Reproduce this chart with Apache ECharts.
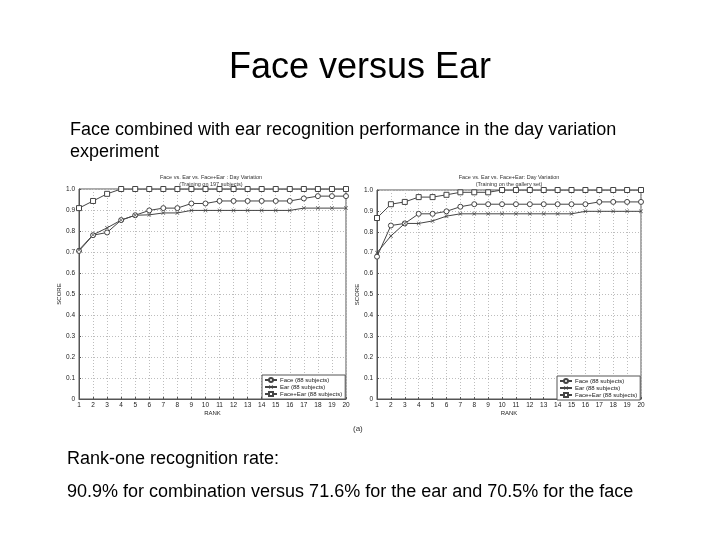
<!DOCTYPE html>
<html>
<head>
<meta charset="utf-8">
<script src="https://cdn.jsdelivr.net/npm/echarts@6/dist/echarts.min.js"></script>
<style>
  html, body { margin: 0; padding: 0; background: #fff; }
  #slide { width: 720px; height: 540px; }
</style>
</head>
<body>
<div id="slide"></div>
<script>
// ranks on the x axis
const ranks = [1, 2, 3, 4, 5, 6, 7, 8, 9, 10, 11, 12, 13, 14, 15, 16, 17, 18, 19, 20]

// left panel: training on 197 subjects
const leftFace = [0.705, 0.780, 0.793, 0.852, 0.875, 0.898, 0.909, 0.909, 0.931, 0.931,
  0.943, 0.943, 0.943, 0.943, 0.943, 0.943, 0.955, 0.966, 0.966, 0.966]
const leftEar = [0.710, 0.782, 0.815, 0.852, 0.875, 0.877, 0.886, 0.886, 0.898, 0.898,
  0.898, 0.898, 0.898, 0.898, 0.898, 0.898, 0.909, 0.909, 0.909, 0.909]
const leftFusion = [0.909, 0.943, 0.977, 1.0, 1.0, 1.0, 1.0, 1.0, 1.0, 1.0,
  1.0, 1.0, 1.0, 1.0, 1.0, 1.0, 1.0, 1.0, 1.0, 1.0]

// right panel: training on the gallery set
const rightFace = [0.681, 0.830, 0.840, 0.886, 0.886, 0.898, 0.920, 0.932, 0.932, 0.932,
  0.932, 0.932, 0.932, 0.932, 0.932, 0.932, 0.943, 0.943, 0.943, 0.943]
const rightEar = [0.700, 0.780, 0.840, 0.840, 0.852, 0.875, 0.886, 0.886, 0.886, 0.886,
  0.886, 0.886, 0.886, 0.886, 0.886, 0.898, 0.898, 0.898, 0.898, 0.898]
const rightFusion = [0.866, 0.932, 0.943, 0.966, 0.966, 0.977, 0.989, 0.989, 0.989, 1.0,
  1.0, 1.0, 1.0, 1.0, 1.0, 1.0, 1.0, 1.0, 1.0, 1.0]

const seriesNames = ['Face (88 subjects)', 'Ear (88 subjects)', 'Face+Ear (88 subjects)']

const font = 'Liberation Sans, Arial, Helvetica, sans-serif'
const ink = '#222'
const lineInk = '#444'
const gridInk = '#bdbdbd'
const crossSymbol = 'path://M0,1L1,0L5,4L9,0L10,1L6,5L10,9L9,10L5,6L1,10L0,9L4,5Z'

const grids = [
  { left: 79, top: 189, width: 267, height: 210 },
  { left: 377, top: 190, width: 264, height: 209 }
]

function zip(values) {
  return ranks.map((r, i) => [r, values[i]])
}

function xAxisFor(gridIndex) {
  return {
    gridIndex,
    type: 'value',
    min: 1,
    max: 20,
    interval: 1,
    name: 'RANK',
    nameLocation: 'middle',
    nameGap: 11,
    nameTextStyle: { color: ink, fontSize: 6, fontFamily: font },
    axisLine: { lineStyle: { color: '#555', width: 1 } },
    axisTick: { inside: true, length: 2, lineStyle: { color: '#555' } },
    axisLabel: { color: ink, fontSize: 6.5, margin: 3, fontFamily: font },
    splitLine: { show: true, lineStyle: { color: gridInk, type: [1, 2], width: 1 } }
  }
}

function yAxisFor(gridIndex) {
  return {
    gridIndex,
    type: 'value',
    min: 0,
    max: 1,
    interval: 0.1,
    name: 'SCORE',
    nameLocation: 'middle',
    nameRotate: 90,
    nameGap: 13,
    nameTextStyle: { color: ink, fontSize: 6, fontFamily: font },
    axisLine: { lineStyle: { color: '#555', width: 1 } },
    axisTick: { inside: true, length: 2, lineStyle: { color: '#555' } },
    axisLabel: {
      color: ink, fontSize: 6.5, margin: 4, fontFamily: font,
      formatter: (v) => (v === 0 ? '0' : v.toFixed(1))
    },
    splitLine: { show: true, lineStyle: { color: gridInk, type: [1, 2], width: 1 } }
  }
}

function lineSeries(name, values, idx, symbol, size) {
  const isCross = symbol === crossSymbol
  return {
    name,
    type: 'line',
    xAxisIndex: idx,
    yAxisIndex: idx,
    data: zip(values),
    symbol,
    symbolSize: size,
    showSymbol: true,
    lineStyle: { color: lineInk, width: 1 },
    itemStyle: { color: isCross ? lineInk : '#fff', borderColor: lineInk, borderWidth: isCross ? 0 : 1 },
    emphasis: { disabled: true },
    z: 3
  }
}

function legendFor(left, top) {
  return {
    data: seriesNames,
    orient: 'vertical',
    left,
    top,
    padding: [2, 3, 2, 2],
    itemGap: 1,
    itemWidth: 12,
    itemHeight: 5,
    backgroundColor: '#fff',
    borderColor: '#555',
    borderWidth: 1,
    selectedMode: false,
    textStyle: { color: ink, fontSize: 6, fontFamily: font, padding: [0, 0, 0, -2] }
  }
}

const option = {
  animation: false,
  backgroundColor: '#fff',
  textStyle: { fontFamily: font },
  title: [
    {
      text: 'Face versus Ear',
      left: 'center',
      top: 48,
      padding: 0,
      textStyle: { color: '#000', fontSize: 36, fontWeight: 'normal', fontFamily: font, lineHeight: 40 }
    },
    {
      text: 'Face combined with ear recognition performance in the day variation\nexperiment',
      left: 70,
      top: 119,
      padding: 0,
      textStyle: { color: '#000', fontSize: 18, fontWeight: 'normal', fontFamily: font, lineHeight: 22 }
    },
    {
      text: 'Face vs. Ear vs. Face+Ear : Day Variation\n(Training on 197 subjects)',
      left: 211,
      top: 174,
      padding: 0,
      textAlign: 'center',
      textStyle: { color: '#333', fontSize: 5.5, fontWeight: 'normal', fontFamily: font, lineHeight: 7, align: 'center' }
    },
    {
      text: 'Face vs. Ear vs. Face+Ear: Day Variation\n(Training on the gallery set)',
      left: 509,
      top: 174,
      padding: 0,
      textAlign: 'center',
      textStyle: { color: '#333', fontSize: 5.5, fontWeight: 'normal', fontFamily: font, lineHeight: 7, align: 'center' }
    },
    {
      text: '(a)',
      left: 353,
      top: 425,
      padding: 0,
      textStyle: { color: '#333', fontSize: 8, fontWeight: 'normal', fontFamily: font }
    },
    {
      text: 'Rank-one recognition rate:',
      left: 67,
      top: 448,
      padding: 0,
      textStyle: { color: '#000', fontSize: 18, fontWeight: 'normal', fontFamily: font, lineHeight: 22 }
    },
    {
      text: '90.9% for combination versus 71.6% for the ear and 70.5% for the face',
      left: 67,
      top: 481,
      padding: 0,
      textStyle: { color: '#000', fontSize: 18, fontWeight: 'normal', fontFamily: font, lineHeight: 22 }
    }
  ],
  grid: grids.map(g => ({ ...g, show: true, borderColor: '#555', borderWidth: 1, backgroundColor: 'transparent' })),
  xAxis: [xAxisFor(0), xAxisFor(1)],
  yAxis: [yAxisFor(0), yAxisFor(1)],
  legend: [legendFor(262, 375), legendFor(557, 376)],
  series: [
    lineSeries(seriesNames[0], leftFace, 0, 'circle', 5),
    lineSeries(seriesNames[1], leftEar, 0, crossSymbol, 4),
    lineSeries(seriesNames[2], leftFusion, 0, 'rect', 5),
    lineSeries(seriesNames[0], rightFace, 1, 'circle', 5),
    lineSeries(seriesNames[1], rightEar, 1, crossSymbol, 4),
    lineSeries(seriesNames[2], rightFusion, 1, 'rect', 5)
  ]
}

const chart = echarts.init(document.getElementById('slide'), null, { renderer: 'canvas' })
chart.setOption(option)
</script>
</body>
</html>
